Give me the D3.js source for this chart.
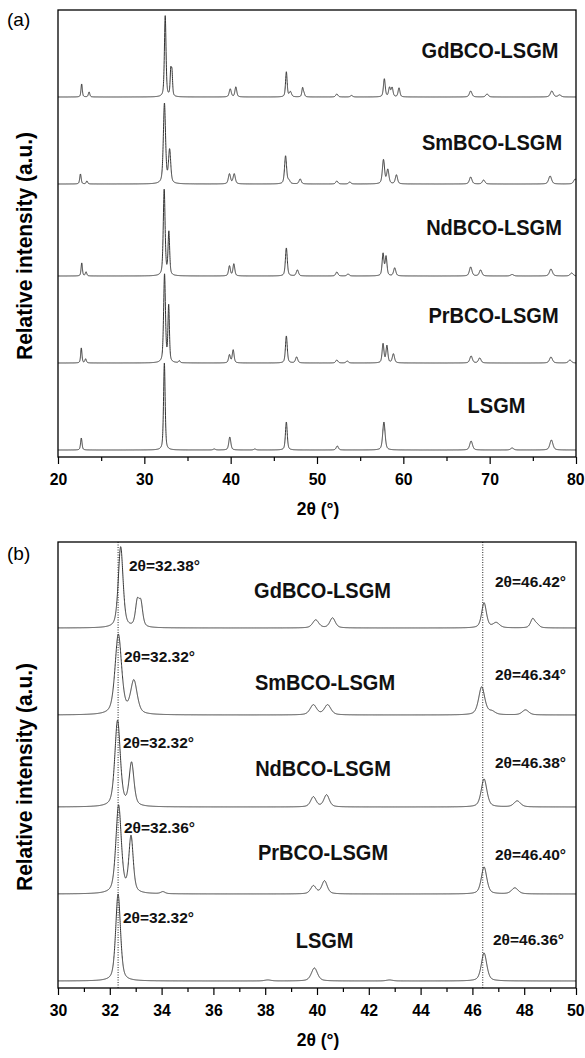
<!DOCTYPE html>
<html>
<head>
<meta charset="utf-8">
<script src="https://cdn.jsdelivr.net/npm/d3@7"></script>
<style>
  body { margin: 0; background: #fff; }
  svg text { font-family: "Liberation Sans", Arial, sans-serif; }
</style>
</head>
<body>
<svg id="chart" width="585" height="1058"></svg>
<script>
// ------ DATA ------

// samples, top trace first
const samples = ['GdBCO-LSGM', 'SmBCO-LSGM', 'NdBCO-LSGM', 'PrBCO-LSGM', 'LSGM'];
// vertical stacking offset of each trace (intensity units)
const offsets = [360, 273, 181, 94, 7];

// peaks: [2theta, height, fwhm]
const peaksGd = [
  [22.74, 13, 0.18], [23.6, 5, 0.2], [32.42, 81, 0.22], [33.06, 24, 0.17], [33.2, 23, 0.17],
  [39.95, 8, 0.28], [40.6, 10, 0.25], [46.45, 25, 0.22], [46.92, 5, 0.3], [48.33, 9, 0.2],
  [48.5, 3, 0.2], [52.3, 3, 0.3], [54.0, 1.5, 0.3], [57.8, 18, 0.25], [58.4, 9, 0.25],
  [58.7, 9, 0.25], [59.5, 9, 0.25], [67.8, 6, 0.35], [69.7, 3, 0.35], [77.2, 6, 0.4], [78.1, 2, 0.4]
];
const peaksSm = [
  [22.6, 10, 0.2], [23.35, 3, 0.2], [32.33, 80, 0.3], [32.93, 33, 0.3], [39.86, 10, 0.3],
  [40.41, 10, 0.3], [46.36, 28, 0.28], [46.75, 3, 0.3], [48.05, 5, 0.3], [52.3, 3, 0.3],
  [53.8, 2, 0.3], [57.7, 24, 0.3], [58.2, 14, 0.3], [59.2, 9, 0.3], [67.8, 7, 0.35],
  [69.3, 4, 0.35], [77.0, 8, 0.4], [79.9, 5, 0.4]
];
const peaksNd = [
  [22.75, 13, 0.18], [23.25, 4, 0.2], [32.3, 86, 0.25], [32.84, 43, 0.22], [39.86, 10, 0.25],
  [40.37, 12, 0.25], [46.45, 28, 0.26], [47.73, 6, 0.3], [52.3, 4, 0.3], [53.6, 2, 0.3],
  [57.65, 22, 0.25], [58.0, 19, 0.25], [59.0, 8, 0.3], [67.8, 9, 0.35], [68.95, 6, 0.35],
  [72.6, 1.5, 0.4], [77.1, 7, 0.4], [79.5, 3, 0.4]
];
const peaksPr = [
  [22.7, 15, 0.18], [23.2, 4, 0.2], [32.34, 88, 0.25], [32.82, 56, 0.2], [34.05, 2, 0.2],
  [39.86, 8, 0.25], [40.29, 13, 0.25], [46.45, 27, 0.25], [47.64, 6, 0.3], [52.3, 3, 0.3],
  [53.5, 2, 0.3], [57.65, 19, 0.25], [58.1, 17, 0.25], [58.85, 9, 0.3], [67.85, 7, 0.35],
  [68.85, 5, 0.35], [77.1, 6, 0.4], [79.3, 3, 0.4]
];
const peaksLSGM = [
  [22.7, 12, 0.2], [32.32, 87, 0.22], [38.1, 1, 0.3], [39.9, 13, 0.28], [42.8, 1, 0.3],
  [46.45, 28, 0.25], [52.35, 4, 0.3], [57.75, 28, 0.33], [67.85, 9, 0.38], [72.6, 2, 0.4],
  [77.15, 10, 0.42]
];
const peakSets = [peaksGd, peaksSm, peaksNd, peaksPr, peaksLSGM];

// peak position labels in panel (b)
const labelsLow = ['2θ=32.38°', '2θ=32.32°', '2θ=32.32°', '2θ=32.36°', '2θ=32.32°'];
const labelsHigh = ['2θ=46.42°', '2θ=46.34°', '2θ=46.38°', '2θ=46.40°', '2θ=46.36°'];
const refLines = [32.32, 46.40];

const ticksA = [20, 30, 40, 50, 60, 70, 80];
const minorA = [25, 35, 45, 55, 65, 75];
const ticksB = [30, 32, 34, 36, 38, 40, 42, 44, 46, 48, 50];
const minorB = [31, 33, 35, 37, 39, 41, 43, 45, 47, 49];

// ------ LAYOUT ------
const svg = d3.select('#chart');
const LEFT = 58, RIGHT = 576;

const panels = [
  { tag: '(a)', tagY: 26, top: 10, bottom: 457, domain: [20, 80], step: 0.01,
    ticks: ticksA, minor: minorA, titleY: 515, yTitleY: 246, refs: false,
    names: [[490, 58], [492, 150], [494, 235], [493.5, 323], [496.5, 413]] },
  { tag: '(b)', tagY: 560, top: 542, bottom: 988, domain: [30, 50], step: 0.004,
    ticks: ticksB, minor: minorB, titleY: 1046, yTitleY: 777, refs: true,
    names: [[322.5, 598], [325, 690], [323, 776], [323, 860], [324.6, 948]],
    low: [[129, 571], [124, 662], [123, 748], [124, 833], [123, 923]],
    high: [[495, 587], [495, 680], [495, 768], [495, 860], [493, 945]] }
];

// pseudo-Voigt sum of the listed peaks
function profile(peaks, t) {
  let s = 0;
  peaks.forEach(function(p) {
    const u = (t - p[0]) / p[2];
    const g = Math.exp(-4 * Math.LN2 * u * u);
    const l = 1 / (1 + 4 * u * u);
    s += p[1] * (0.5 * g + 0.5 * l);
  });
  return s;
}

// the original lettering is a bit narrower than Arial: squeeze it
function condense(sel, factor) {
  sel.each(function() {
    const w = this.getComputedTextLength();
    d3.select(this).attr('textLength', w * factor).attr('lengthAdjust', 'spacingAndGlyphs');
  });
}

function drawPanel(cfg, idx) {
  const x = d3.scaleLinear().domain(cfg.domain).range([LEFT, RIGHT]);
  const y = d3.scaleLinear().domain([0, cfg.bottom - cfg.top]).range([cfg.bottom, cfg.top]);
  const g = svg.append('g');

  g.append('clipPath').attr('id', 'clip' + idx)
    .append('rect')
      .attr('x', LEFT).attr('y', cfg.top)
      .attr('width', RIGHT - LEFT).attr('height', cfg.bottom - cfg.top);

  // reference lines
  if (cfg.refs) {
    g.selectAll('.ref')
      .data(refLines)
      .join('line')
        .attr('x1', d => x(d)).attr('x2', d => x(d))
        .attr('y1', cfg.top).attr('y2', cfg.bottom)
        .attr('stroke', '#222')
        .attr('stroke-width', 1)
        .attr('stroke-dasharray', '1,1.5');
  }

  // traces
  const n = Math.round((cfg.domain[1] - cfg.domain[0]) / cfg.step);
  const line = d3.line().x(d => x(d[0])).y(d => y(d[1]));
  peakSets.forEach(function(peaks, i) {
    const pts = d3.range(n + 1).map(function(k) {
      const t = cfg.domain[0] + k * cfg.step;
      return [t, offsets[i] + profile(peaks, t)];
    });
    g.append('path')
      .datum(pts)
      .attr('clip-path', 'url(#clip' + idx + ')')
      .attr('fill', 'none')
      .attr('stroke', '#333')
      .attr('stroke-width', 1)
      .attr('stroke-linejoin', 'round')
      .attr('d', line);
  });

  // sample names
  const names = g.selectAll('.name')
    .data(samples)
    .join('text')
      .attr('x', (d, i) => cfg.names[i][0])
      .attr('y', (d, i) => cfg.names[i][1])
      .attr('text-anchor', 'middle')
      .attr('font-size', 22)
      .attr('font-weight', 'bold')
      .attr('fill', '#111')
      .text(d => d);
  condense(names, 0.91);

  // peak position labels
  if (cfg.low) {
    [[labelsLow, cfg.low], [labelsHigh, cfg.high]].forEach(function(pair) {
      g.selectAll(null)
        .data(pair[0])
        .join('text')
          .attr('x', (d, i) => pair[1][i][0])
          .attr('y', (d, i) => pair[1][i][1])
          .attr('font-size', 15.5)
          .attr('font-weight', 'bold')
          .attr('fill', '#111')
          .text(d => d);
    });
  }

  // frame
  g.append('rect')
    .attr('x', LEFT).attr('y', cfg.top)
    .attr('width', RIGHT - LEFT).attr('height', cfg.bottom - cfg.top)
    .attr('fill', 'none')
    .attr('stroke', '#000')
    .attr('stroke-width', 1.3);

  // x axis: major + minor ticks
  const ax = g.append('g')
    .attr('transform', `translate(0,${cfg.bottom})`)
    .call(d3.axisBottom(x).tickValues(cfg.ticks).tickSize(7).tickPadding(9).tickFormat(d3.format('d')));
  ax.select('.domain').remove();
  ax.selectAll('line').attr('stroke', '#000').attr('stroke-width', 1.2);
  ax.selectAll('text')
    .attr('font-size', 17)
    .attr('font-weight', 'bold')
    .attr('fill', '#000')
    .style('font-family', '"Liberation Sans", Arial, sans-serif');
  condense(ax.selectAll('text'), 0.93);
  // keep the last label inside the page
  ax.selectAll('text').filter(d => d === cfg.domain[1])
    .attr('text-anchor', 'end')
    .attr('dx', 8);

  const mx = g.append('g')
    .attr('transform', `translate(0,${cfg.bottom})`)
    .call(d3.axisBottom(x).tickValues(cfg.minor).tickSize(4).tickFormat(''));
  mx.select('.domain').remove();
  mx.selectAll('line').attr('stroke', '#000').attr('stroke-width', 1.2);

  // axis titles
  const xt = g.append('text')
    .attr('x', (LEFT + RIGHT) / 2 + 1)
    .attr('y', cfg.titleY)
    .attr('text-anchor', 'middle')
    .attr('font-size', 19)
    .attr('font-weight', 'bold')
    .text('2θ (°)');
  condense(xt, 0.92);

  const yt = g.append('text')
    .attr('transform', `translate(32,${cfg.yTitleY}) rotate(-90)`)
    .attr('text-anchor', 'middle')
    .attr('font-size', 22.5)
    .attr('font-weight', 'bold')
    .text('Relative intensity (a.u.)');
  condense(yt, 0.93);

  g.append('text')
    .attr('x', 7)
    .attr('y', cfg.tagY)
    .attr('font-size', 19)
    .text(cfg.tag);
}

panels.forEach(drawPanel);
</script>
</body>
</html>
